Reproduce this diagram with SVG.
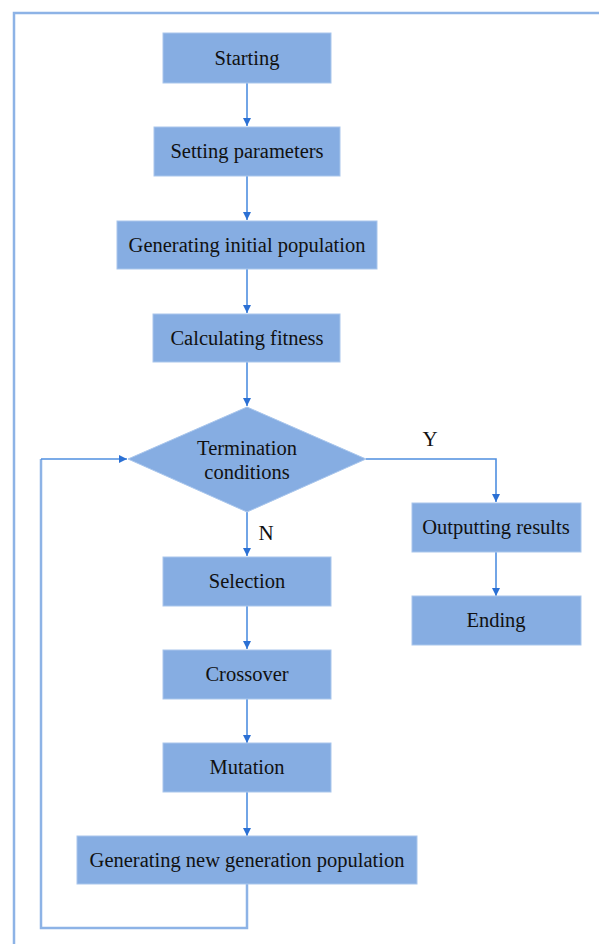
<svg xmlns="http://www.w3.org/2000/svg" width="599" height="944" viewBox="0 0 599 944">
<defs>
<style>
.box{fill:#86ade2;stroke:#a9c6ec;stroke-width:1}
.t{font-family:'Liberation Serif','Times New Roman',serif;font-size:20.5px;fill:#111;text-anchor:middle}
.lbl{font-family:'Liberation Serif','Times New Roman',serif;font-size:21px;fill:#111;text-anchor:middle}
.c{fill:none;stroke:#4f8fe0;stroke-width:1.6}
.loop{fill:none;stroke:#8db3e6;stroke-width:2.5}
</style>
<marker id="ah" viewBox="0 0 10 10" refX="10" refY="5" markerWidth="8" markerHeight="8" markerUnits="userSpaceOnUse" orient="auto">
<path d="M0,0 L10,5 L0,10 z" fill="#2b70d4"/>
</marker>
</defs>
<rect width="599" height="944" fill="#fff"/>
<path d="M14,944 L14,13 L605,13" fill="none" stroke="#8db3e6" stroke-width="2.5"/>

<g id="connectors">
<line class="c" x1="247" y1="83" x2="247" y2="126" marker-end="url(#ah)"/>
<line class="c" x1="247" y1="176" x2="247" y2="220" marker-end="url(#ah)"/>
<line class="c" x1="247" y1="269" x2="247" y2="313" marker-end="url(#ah)"/>
<line class="c" x1="247" y1="362" x2="247" y2="406" marker-end="url(#ah)"/>
<line class="c" x1="247" y1="512" x2="247" y2="556" marker-end="url(#ah)"/>
<line class="c" x1="247" y1="606" x2="247" y2="649" marker-end="url(#ah)"/>
<line class="c" x1="247" y1="699" x2="247" y2="743" marker-end="url(#ah)"/>
<line class="c" x1="247" y1="792" x2="247" y2="836" marker-end="url(#ah)"/>
<polyline class="c" points="366,459 496,459 496,502" marker-end="url(#ah)"/>
<line class="c" x1="496" y1="552" x2="496" y2="596" marker-end="url(#ah)"/>
<polyline class="loop" points="247,884 247,928 41,928 41,459"/>
<line class="c" x1="41" y1="459" x2="127" y2="459" marker-end="url(#ah)"/>
<text class="lbl" x="430" y="446">Y</text>
<text class="lbl" x="266" y="540">N</text>
</g>

<g id="starting"><rect class="box" x="163" y="33" width="168" height="50"/><text class="t" x="247" y="65">Starting</text></g>
<g id="setting"><rect class="box" x="154" y="127" width="186" height="49"/><text class="t" x="247" y="158">Setting parameters</text></g>
<g id="geninit"><rect class="box" x="117" y="221" width="260" height="48"/><text class="t" x="247" y="252">Generating initial population</text></g>
<g id="calc"><rect class="box" x="153" y="314" width="187" height="48"/><text class="t" x="247" y="345">Calculating fitness</text></g>
<g id="term"><polygon class="box" points="247,407 366,459 247,512 128,459"/><text class="t" x="247" y="455">Termination</text><text class="t" x="247" y="479">conditions</text></g>
<g id="selection"><rect class="box" x="163" y="557" width="168" height="49"/><text class="t" x="247" y="588">Selection</text></g>
<g id="crossover"><rect class="box" x="163" y="650" width="168" height="49"/><text class="t" x="247" y="681">Crossover</text></g>
<g id="mutation"><rect class="box" x="163" y="743" width="168" height="49"/><text class="t" x="247" y="774">Mutation</text></g>
<g id="gennew"><rect class="box" x="77" y="836" width="340" height="48"/><text class="t" x="247" y="867">Generating new generation population</text></g>
<g id="output"><rect class="box" x="412" y="503" width="169" height="49"/><text class="t" x="496" y="534">Outputting results</text></g>
<g id="ending"><rect class="box" x="412" y="596" width="169" height="49"/><text class="t" x="496" y="627">Ending</text></g>
</svg>
